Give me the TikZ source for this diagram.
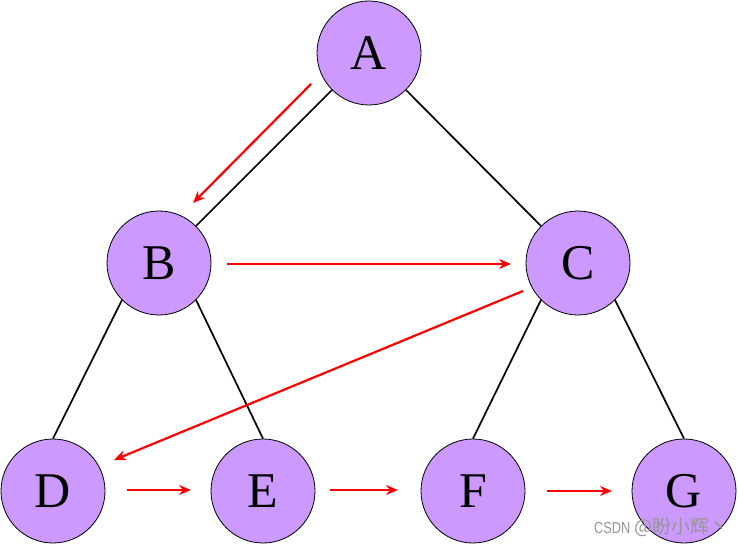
\documentclass[tikz,border=0pt]{standalone}
\usepackage{fontspec}
\setmainfont{Liberation Serif}
\newfontfamily\cjk{Noto Sans CJK SC}
\newfontfamily\wmlatin[FakeStretch=0.8]{Liberation Sans}
\usetikzlibrary{arrows.meta}
\definecolor{nodefill}{RGB}{204,153,255}
\definecolor{wmgray}{RGB}{150,150,150}
\tikzset{
  treenode/.style={circle, draw=black, line width=0.8pt, fill=nodefill, minimum size=104pt, inner sep=0pt, font=\fontsize{50}{50}\selectfont},
  edge/.style={draw=black, line width=1.7pt},
  trav/.style={draw=red, line width=2.2pt, -{Stealth[length=12pt,width=10pt]}},
}
\begin{document}
\begin{tikzpicture}[x=1pt,y=-1pt]
\useasboundingbox (0,0) rectangle (738,545);
\node[treenode] (A) at (369,53) {A};
\node[treenode] (B) at (159,263) {B};
\node[treenode] (C) at (578,263) {C};
\node[treenode] (D) at (53,491) {D};
\node[treenode] (E) at (263,491) {E};
\node[treenode] (F) at (473,491) {F};
\node[treenode] (G) at (684,491) {G};
\draw[edge] (A.south west) -- (B.north east);
\draw[edge] (A.south east) -- (C.north west);
\draw[edge] (B.south west) -- (D.north);
\draw[edge] (B.south east) -- (E.north);
\draw[edge] (C.south west) -- (F.north);
\draw[edge] (C.south east) -- (G.north);
\coordinate (a1) at (311,84);  \coordinate (a2) at (193,203);
\coordinate (b1) at (227,264); \coordinate (b2) at (511,264);
\coordinate (c1) at (523,291); \coordinate (c2) at (114,460);
\coordinate (d1) at (127,490); \coordinate (d2) at (191,490);
\coordinate (e1) at (330,490); \coordinate (e2) at (398,490);
\coordinate (f1) at (547,491); \coordinate (f2) at (612,491);
\draw[trav] (a1) -- (a2);
\draw[trav] (b1) -- (b2);
\draw[trav] (c1) -- (c2);
\draw[trav] (d1) -- (d2);
\draw[trav] (e1) -- (e2);
\draw[trav] (f1) -- (f2);
\node[anchor=base west, text=wmgray, inner sep=0pt] (wm) at (594,533) {{\wmlatin\fontsize{16}{16}\selectfont CSDN}\hspace{4pt}{\cjk\fontsize{19}{19}\selectfont @盼小辉丶}};
\end{tikzpicture}
\end{document}
